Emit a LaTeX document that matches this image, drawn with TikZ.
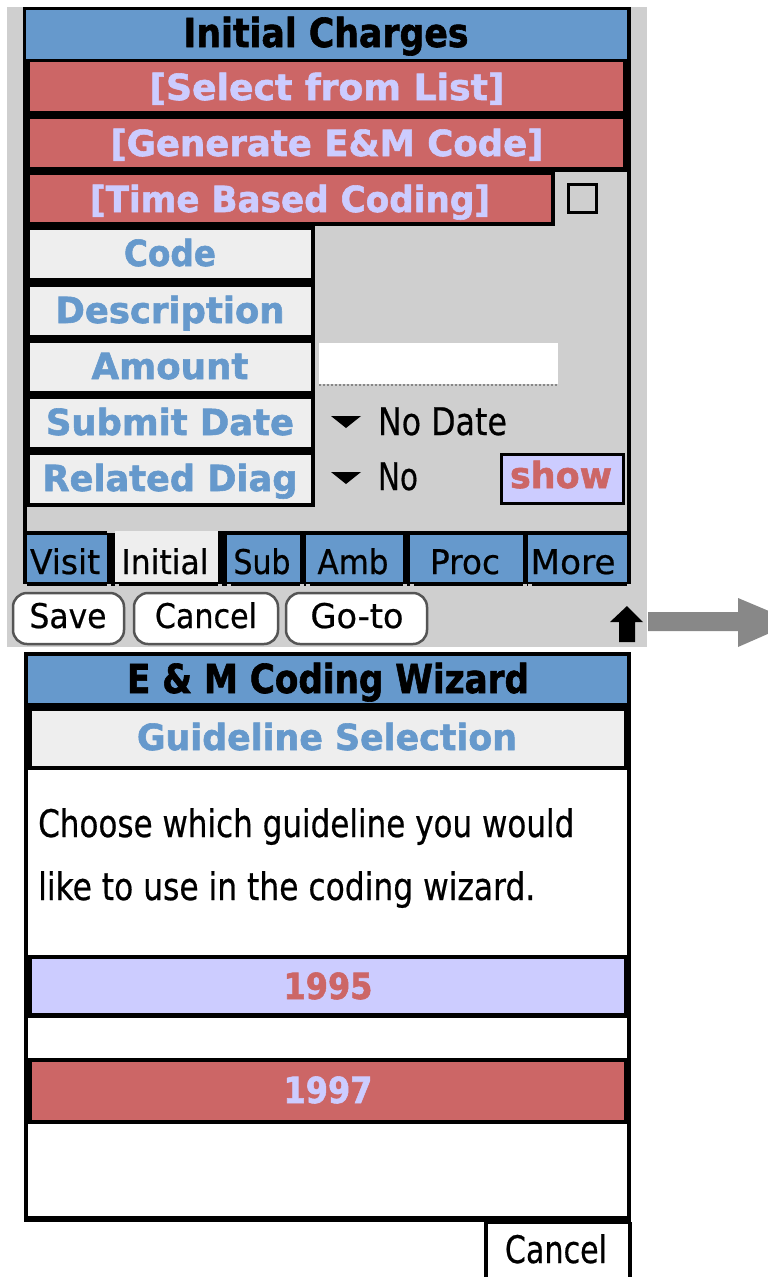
\documentclass[tikz,border=0pt]{standalone}
\usepackage{fontspec}
\setmainfont{DejaVu Sans}[FakeBold=0.6,BoldFeatures={FakeBold=1.6}]
\usepackage{graphicx}
\definecolor{pblue}{HTML}{6699CC}
\definecolor{pred}{HTML}{CC6666}
\definecolor{plav}{HTML}{CCCCFF}
\definecolor{plight}{HTML}{EEEEEE}
\definecolor{pbg}{HTML}{CFCFCF}
\definecolor{parrow}{HTML}{888888}
\definecolor{pbtn}{HTML}{555555}
\newcommand\fitt[2]{\resizebox{#1pt}{\height}{#2}}
\begin{document}
\begin{tikzpicture}[x=1pt,y=-1pt,
  txt/.style={inner sep=0pt,anchor=base},
  bl/.style={txt,font=\fontsize{36}{40}\selectfont\bfseries},
  ttl/.style={txt,font=\fontsize{40}{44}\selectfont\bfseries},
  rg/.style={txt,font=\fontsize{38}{40}\selectfont},
  sm/.style={txt,font=\fontsize{34}{36}\selectfont},
  pbutton/.style={fill=white,draw=pbtn,line width=2.5pt,rounded corners=14pt},
  tabfill/.style={fill=pblue}]
\useasboundingbox (0,0) rectangle (768,1277);
\clip (0,0) rectangle (768,1277);
\fill[white] (0,0) rectangle (768,1277);

% ===== top screen =====
\fill[pbg] (7,7) rectangle (647,647);
\fill[black] (23,7) rectangle (631,533);
\fill[pbg] (27,10) rectangle (627,533);
\fill[black] (26,59) rectangle (627,172);
\fill[black] (26,172) rectangle (555,226);
\fill[black] (26,226) rectangle (315,507);
\fill[black] (23,507) rectangle (27,587);
\fill[black] (627,507) rectangle (631,587);

\fill[pblue] (26,10) rectangle (627,59);
\node[ttl] (title1) at (326,47) {\fitt{285}{Initial Charges}};

\fill[pred] (30,62) rectangle (623,111);
\node[bl,text=plav] (sel) at (327,100) {\fitt{355}{[Select from List]}};
\fill[pred] (30,119) rectangle (623,167);
\node[bl,text=plav] (gen) at (327,156) {\fitt{433}{[Generate E\&M Code]}};
\fill[pred] (30,175) rectangle (551,222);
\node[bl,text=plav] (tbc) at (290,212) {\fitt{400}{[Time Based Coding]}};
\draw[line width=3pt] (568.5,184.5) rectangle (596.5,212.5);

\foreach \t/\b/\w/\s [count=\i] in {230/266/92/Code,287/323/229/Description,343/379/157/Amount,399/435/248/Submit Date,455/491/255/Related Diag}{
  \fill[plight] (30,\t) rectangle (311,\t+48);
  \node[bl,text=pblue] (lab\i) at (170,\b) {\fitt{\w}{\s}};
}

\fill[white] (319,343) rectangle (558,384);
\draw[parrow,line width=2pt,dotted] (319,385) -- (558,385);

\fill[black] (331,416) -- (361,416) -- (346,428) -- cycle;
\node[rg] (nodate) at (442.5,435) {\fitt{129}{No Date}};
\fill[black] (331,472) -- (361,472) -- (346,484) -- cycle;
\node[rg] (no) at (398,490) {\fitt{40}{No}};
\filldraw[fill=plav,line width=3pt] (501.5,454.5) rectangle (623.5,503.5);
\node[bl,text=pred] (show) at (561,488) {\fitt{102}{show}};

% tabs
\fill[black] (23,531) rectangle (631,586);
\fill[pbg] (27,507) rectangle (627,531);
\fill[pbg] (107,531) rectangle (115,533);
\fill[pblue] (27,535) rectangle (107,582);
\fill[plight] (115,531) rectangle (218,582);
\fill[pblue] (227,535) rectangle (300,582);
\fill[pblue] (306,535) rectangle (403,582);
\fill[pblue] (410,535) rectangle (523,582);
\fill[pblue] (528,535) rectangle (627,582);
\foreach \x in {23,107,115,218,227,300,306,403,410,523,528,627}{
  \fill[pbg] (\x,584) rectangle (\x+4,587);
}
\node[sm] (tvisit) at (65,574) {\fitt{70}{Visit}};
\node[sm] (tinit) at (165,574) {\fitt{87}{Initial}};
\node[sm] (tsub) at (262,574) {\fitt{57}{Sub}};
\node[sm] (tamb) at (353,574) {\fitt{71}{Amb}};
\node[sm] (tproc) at (465,574) {\fitt{70}{Proc}};
\node[sm] (tmore) at (573,574) {\fitt{85}{More}};

% buttons
\path[pbutton] (13,593) rectangle (124,644);
\node[sm] (bsave) at (68,628) {\fitt{77}{Save}};
\path[pbutton] (134,593) rectangle (278,644);
\node[sm] (bcancel) at (206,628) {\fitt{102}{Cancel}};
\path[pbutton] (286,593) rectangle (427,644);
\node[sm] (bgoto) at (357,628) {\fitt{93}{Go-to}};

\fill[black] (627,606) -- (643,622) -- (635,622) -- (635,642) -- (619,642) -- (619,622) -- (610,622) -- cycle;

% gray arrow
\fill[parrow] (648,612) -- (738,612) -- (738,598) -- (795,622) -- (738,647) -- (738,631) -- (648,631) -- cycle;

% ===== bottom dialog =====
\fill[black] (24,652) rectangle (631,1222);
\fill[pblue] (28,656) rectangle (627,703);
\node[ttl] (title2) at (328,693) {\fitt{402}{E \& M Coding Wizard}};
\fill[plight] (32,711) rectangle (624,766);
\node[bl,text=pblue] (guide) at (327,750) {\fitt{380}{Guideline Selection}};
\fill[white] (28,770) rectangle (627,955);
\node[rg,anchor=base west] (l1) at (38,837) {\fitt{536}{Choose which guideline you would}};
\node[rg,anchor=base west] (l2) at (38,900) {\fitt{497}{like to use in the coding wizard.}};
\fill[plav] (32,959) rectangle (624,1013);
\node[bl,text=pred] (y95) at (328,999) {\fitt{89}{1995}};
\fill[white] (28,1018) rectangle (627,1058);
\fill[pred] (32,1062) rectangle (624,1120);
\node[bl,text=plav] (y97) at (328,1103) {\fitt{89}{1997}};
\fill[white] (28,1124) rectangle (627,1216);

\fill[black] (484,1222) rectangle (632,1277);
\fill[white] (488,1224) rectangle (628,1277);
\node[rg] (dcancel) at (556,1263) {\fitt{102}{Cancel}};
\end{tikzpicture}
\end{document}
